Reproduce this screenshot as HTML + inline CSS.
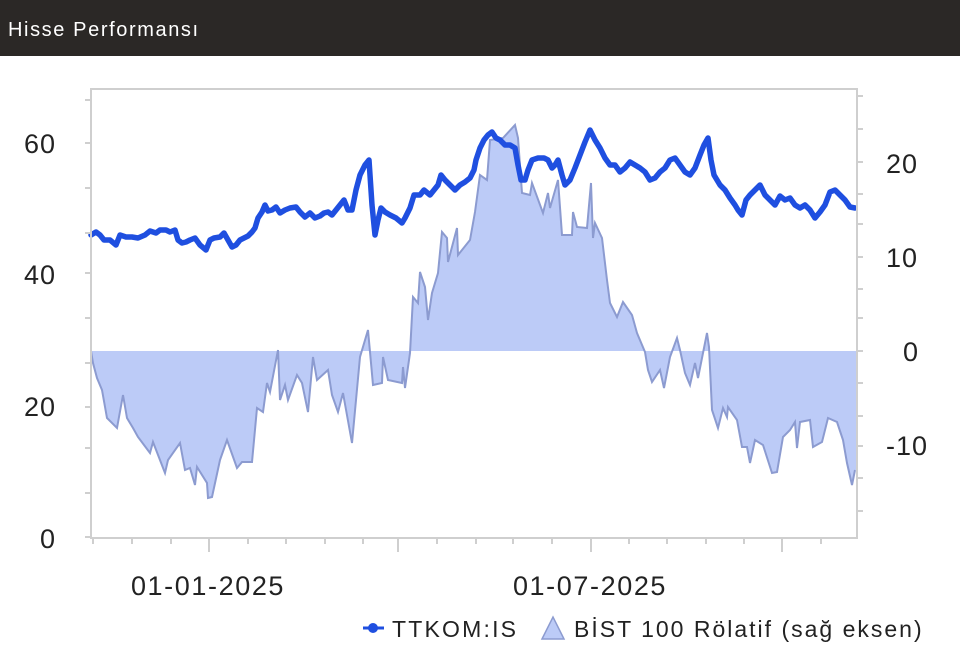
<!DOCTYPE html>
<html><head><meta charset="utf-8"><style>
body{margin:0;background:#fff;width:960px;height:663px;overflow:hidden;font-family:"Liberation Sans",sans-serif}
.hd{position:absolute;left:0;top:0;width:960px;height:56px;background:#2b2826;color:#fff;font-size:20px;letter-spacing:1.6px;line-height:60px;padding-left:8px;box-sizing:border-box}
</style></head><body>
<div class="hd">Hisse Performansı</div>
<svg width="960" height="663" style="position:absolute;left:0;top:0" font-family="Liberation Sans, sans-serif">
<polygon fill="#bccbf7" points="91,351 93,363 97,378 102,390 107,418 117,428 123,395 127,418 133,428 138,437 150,453 153,442 165,473 168,460 180,443 185,470 190,468 195,485 197,467 207,483 208,498 212,497 220,460 227,440 237,468 242,462 252,462 257,408 263,412 267,383 270,392 278,350 280,400 285,385 288,400 297,375 302,383 308,412 313,357 317,380 328,370 332,395 338,412 343,393 352,443 360,357 368,330 373,385 382,383 383,357 388,380 402,383 403,367 405,388 410,353 413,297 418,303 420,272 425,287 428,320 432,293 438,273 442,232 447,238 448,262 457,228 458,255 470,240 475,212 480,175 487,180 490,140 503,138 515,125 518,138 522,193 530,195 532,183 543,213 548,193 550,208 558,180 562,235 572,235 573,212 577,227 587,228 591,183 593,238 595,223 602,238 607,280 610,303 617,317 623,302 632,315 637,333 645,352 648,370 652,382 660,370 664,388 670,357 677,338 680,350 685,373 690,385 695,363 698,378 707,333 709,347 712,410 718,428 723,408 727,417 728,407 737,420 742,447 747,447 750,463 755,440 763,445 772,473 777,472 783,437 790,430 795,422 797,448 800,422 810,420 813,447 822,442 828,418 837,422 843,440 847,463 852,485 855,470 857,470 857,351"/>
<polyline fill="none" stroke="#8c9bd0" stroke-width="2" points="91,351 93,363 97,378 102,390 107,418 117,428 123,395 127,418 133,428 138,437 150,453 153,442 165,473 168,460 180,443 185,470 190,468 195,485 197,467 207,483 208,498 212,497 220,460 227,440 237,468 242,462 252,462 257,408 263,412 267,383 270,392 278,350 280,400 285,385 288,400 297,375 302,383 308,412 313,357 317,380 328,370 332,395 338,412 343,393 352,443 360,357 368,330 373,385 382,383 383,357 388,380 402,383 403,367 405,388 410,353 413,297 418,303 420,272 425,287 428,320 432,293 438,273 442,232 447,238 448,262 457,228 458,255 470,240 475,212 480,175 487,180 490,140 503,138 515,125 518,138 522,193 530,195 532,183 543,213 548,193 550,208 558,180 562,235 572,235 573,212 577,227 587,228 591,183 593,238 595,223 602,238 607,280 610,303 617,317 623,302 632,315 637,333 645,352 648,370 652,382 660,370 664,388 670,357 677,338 680,350 685,373 690,385 695,363 698,378 707,333 709,347 712,410 718,428 723,408 727,417 728,407 737,420 742,447 747,447 750,463 755,440 763,445 772,473 777,472 783,437 790,430 795,422 797,448 800,422 810,420 813,447 822,442 828,418 837,422 843,440 847,463 852,485 855,470"/>
<polyline fill="none" stroke="#1f4fe0" stroke-width="5.5" stroke-linejoin="round" stroke-linecap="round" points="91,235 96,232 100,235 104,240 110,240 116,245 120,235 126,237 132,237 138,238 145,235 150,231 156,233 160,230 166,230 170,232 175,230 178,240 182,243 186,242 190,240 195,238 200,245 206,250 210,240 214,238 220,237 224,233 228,240 232,247 236,245 240,240 244,238 248,236 252,232 255,228 258,218 262,212 265,205 268,211 272,210 276,207 280,213 285,210 290,208 296,207 300,212 305,217 310,213 315,218 320,216 324,213 328,212 332,215 336,210 340,205 344,200 348,210 352,210 356,190 360,175 365,165 369,160 372,205 375,235 378,220 381,208 385,212 390,215 396,218 402,223 405,218 410,208 414,195 420,195 424,190 430,195 434,190 438,185 441,175 445,180 450,185 455,190 460,185 465,182 470,178 474,170 476,160 480,148 484,140 488,135 492,132 496,138 500,140 505,145 510,145 515,148 518,165 521,180 525,180 528,170 532,160 538,158 544,158 548,160 552,168 555,165 558,160 562,175 565,185 570,180 575,168 580,155 585,142 590,130 595,140 600,148 605,158 610,165 615,165 620,172 625,168 630,162 635,165 640,168 645,172 650,180 655,178 660,172 665,168 670,160 675,158 680,165 685,172 690,175 695,168 700,155 704,145 708,138 711,160 714,175 720,185 725,190 730,198 735,205 738,210 742,215 746,200 750,195 755,190 760,185 765,195 770,200 775,205 780,196 785,200 790,198 795,205 800,208 805,205 810,210 815,218 820,212 825,205 830,192 835,190 840,195 845,200 850,207 855,208"/>
<rect x="91" y="89" width="766" height="449" fill="none" stroke="#cfcfcf" stroke-width="2"/>
<g stroke="#cfcfcf" stroke-width="2">
<path d="M85 100h6M85 143h6M85 188h6M85 233h6M85 273h6M85 318h6M85 363h6M85 407h6M85 448h6M85 493h6M85 537h6"/>
<path d="M857 96h6M857 129h6M857 162h6M857 194h6M857 224h6M857 257h6M857 289h6M857 318h6M857 351h6M857 383h6M857 416h6M857 446h6M857 478h6M857 511h6"/>
<path d="M93 538v6M132 538v6M171 538v6M248 538v6M286 538v6M325 538v6M363 538v6M437 538v6M476 538v6M513 538v6M552 538v6M629 538v6M667 538v6M706 538v6M744 538v6M821 538v6"/>
<path d="M209 538v14M398 538v14M591 538v14M782 538v14"/>
</g>
<g font-size="27" fill="#222" text-anchor="end" letter-spacing="1">
<text x="56" y="153">60</text><text x="56" y="284">40</text><text x="56" y="416">20</text><text x="56" y="548">0</text>
</g>
<g font-size="27" fill="#222" letter-spacing="1">
<text x="886" y="173">20</text><text x="886" y="267">10</text><text x="903" y="361">0</text><text x="886" y="455">-10</text>
</g>
<g font-size="27" fill="#222" letter-spacing="1.6">
<text x="208" y="595" text-anchor="middle">01-01-2025</text><text x="590" y="595" text-anchor="middle">01-07-2025</text>
</g>
<line x1="363" y1="628" x2="384" y2="628" stroke="#1f4fe0" stroke-width="3"/><circle cx="373" cy="628" r="5" fill="#1f4fe0"/>
<text x="392" y="637" font-size="23" letter-spacing="2.2" fill="#222">TTKOM:IS</text>
<polygon points="542,639 553,617 564,639" fill="#bccbf7" stroke="#8c9bd0" stroke-width="1.5"/>
<text x="574" y="637" font-size="23" letter-spacing="2" fill="#222">BİST 100 Rölatif (sağ eksen)</text>
</svg>
</body></html>
